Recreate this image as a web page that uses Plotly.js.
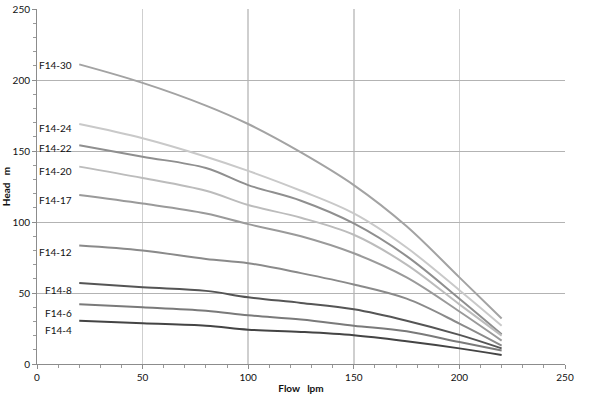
<!DOCTYPE html>
<html>
<head>
<meta charset="utf-8">
<script src="https://cdn.plot.ly/plotly-3.0.1.min.js"></script>
<style>html,body{margin:0;padding:0;background:#fff;}#chart{width:600px;height:399px;}</style>
</head>
<body>
<div id="chart"></div>
<script>
// Flow (lpm)
var flow = [20, 50, 80, 100, 125, 150, 175, 200, 220];
// Head (m) per model
var seriesNames = ["F14-30", "F14-24", "F14-22", "F14-20", "F14-17", "F14-12", "F14-8", "F14-6", "F14-4"];
var f14_30 = [211, 198, 182, 169, 149, 126, 97, 61, 32];
var f14_24 = [169, 159, 146, 136, 122, 106, 82, 52, 27];
var f14_22 = [154, 146, 138, 126, 115, 99, 76, 46, 21];
var f14_20 = [139, 131, 122, 112, 103, 91, 70, 42, 20];
var f14_17 = [119, 113, 106, 98.5, 90, 78, 61, 37, 16.5];
var f14_12 = [83.5, 80, 74, 71, 64, 56, 46, 28.5, 13];
var f14_8  = [57, 54, 51.5, 47, 43, 38.5, 30.5, 20.5, 11];
var f14_6  = [42, 40, 37.5, 34.3, 31.3, 27, 23, 15.5, 9.5];
var f14_4  = [30.5, 28.7, 27, 24.2, 22.6, 20.2, 16, 11, 6.3];
var seriesValues = [f14_30, f14_24, f14_22, f14_20, f14_17, f14_12, f14_8, f14_6, f14_4];

// styling
var lineColors = ["#a3a3a3", "#c9c9c9", "#8f8f8f", "#bcbcbc", "#9a9a9a", "#8a8a8a", "#555555", "#7a7a7a", "#444444"];
var labelY = [210.6, 166.2, 152.1, 135.9, 115.5, 78.8, 52, 35.9, 23.9];

var font = "Lato, 'Open Sans', sans-serif";
var traces = seriesNames.map(function (n, i) {
  return {
    x: flow, y: seriesValues[i], name: n, type: "scatter", mode: "lines",
    line: {color: lineColors[i], width: 2, shape: "spline", smoothing: 1},
    hoverinfo: "x+y+name"
  };
});

var annotations = seriesNames.map(function (n, i) {
  return {
    x: 17.4, y: labelY[i], xref: "x", yref: "y", text: n, showarrow: false,
    xanchor: "right", yanchor: "middle", font: {family: font, size: 10, color: "#111"}
  };
});

var layout = {
  width: 600, height: 399,
  margin: {l: 37, r: 35, t: 9, b: 35},
  paper_bgcolor: "#fff", plot_bgcolor: "#fff",
  showlegend: false,
  font: {family: font, size: 10, color: "#111"},
  xaxis: {
    range: [0, 250], dtick: 50, tick0: 0,
    showgrid: true, gridcolor: "#cfcfcf", gridwidth: 1.5,
    zeroline: false, showline: true, linecolor: "#8c8c8c", linewidth: 1,
    ticks: "outside", ticklen: 4, tickcolor: "#8c8c8c",
    minor: {dtick: 10, ticks: "outside", ticklen: 3, tickcolor: "#999", showgrid: false},
    tickfont: {family: font, size: 10, color: "#111"},
    title: {text: "<b>Flow   lpm</b>", font: {family: font, size: 10, color: "#111"}, standoff: 2}
  },
  yaxis: {
    range: [0, 250], dtick: 50, tick0: 0,
    showgrid: true, gridcolor: "#b3b3b3", gridwidth: 1,
    zeroline: false, showline: true, linecolor: "#8c8c8c", linewidth: 1,
    ticks: "outside", ticklen: 4, tickcolor: "#8c8c8c",
    minor: {dtick: 10, ticks: "outside", ticklen: 3, tickcolor: "#999", showgrid: false},
    tickfont: {family: font, size: 10, color: "#111"},
    title: {text: "<b>Head   m</b>", font: {family: font, size: 10, color: "#111"}, standoff: 10}
  },
  annotations: annotations
};

Plotly.newPlot("chart", traces, layout, {displayModeBar: false, staticPlot: true});
</script>
</body>
</html>
